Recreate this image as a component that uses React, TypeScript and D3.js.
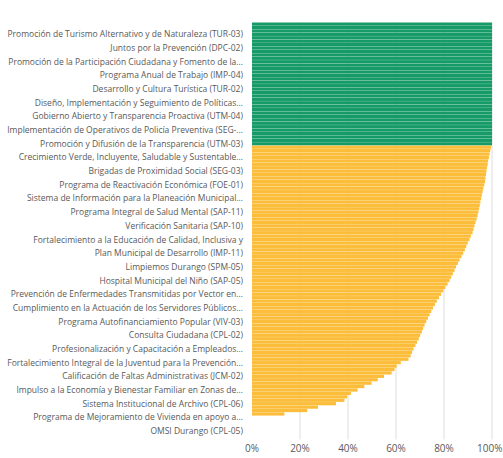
import { useEffect, useRef } from 'react'
import * as d3 from 'd3'

// Labelled programmes (one label shown every 4th bar)
const tickLabels = [
  'Promoción de Turismo Alternativo y de Naturaleza (TUR-03)',
  'Juntos por la Prevención (DPC-02)',
  'Promoción de la Participación Ciudadana y Fomento de la...',
  'Programa Anual de Trabajo (IMP-04)',
  'Desarrollo y Cultura Turística (TUR-02)',
  'Diseño, Implementación y Seguimiento de Políticas...',
  'Gobierno Abierto y Transparencia Proactiva (UTM-04)',
  'Implementación de Operativos de Policía Preventiva (SEG-...',
  'Promoción y Difusión de la Transparencia (UTM-03)',
  'Crecimiento Verde, Incluyente, Saludable y Sustentable...',
  'Brigadas de Proximidad Social (SEG-03)',
  'Programa de Reactivación Económica (FOE-01)',
  'Sistema de Información para la Planeación Municipal...',
  'Programa Integral de Salud Mental (SAP-11)',
  'Verificación Sanitaria (SAP-10)',
  'Fortalecimiento a la Educación de Calidad, Inclusiva y',
  'Plan Municipal de Desarrollo (IMP-11)',
  'Limpiemos Durango (SPM-05)',
  'Hospital Municipal del Niño (SAP-05)',
  'Prevención de Enfermedades Transmitidas por Vector en...',
  'Cumplimiento en la Actuación de los Servidores Públicos...',
  'Programa Autofinanciamiento Popular (VIV-03)',
  'Consulta Ciudadana (CPL-02)',
  'Profesionalización y Capacitación a Empleados...',
  'Fortalecimiento Integral de la Juventud para la Prevención...',
  'Calificación de Faltas Administrativas (JCM-02)',
  'Impulso a la Economía y Bienestar Familiar en Zonas de...',
  'Sistema Institucional de Archivo (CPL-06)',
  'Programa de Mejoramiento de Vivienda en apoyo a...',
  'OMSI Durango (CPL-05)',
]
const labelEvery = 4
const labelOffset = 3

// Completed programmes (green), in %
const completeValues = [
  100, 100, 100, 100, 100, 100, 100, 100, 100, 100, 100, 100,
  100, 100, 100, 100, 100, 100, 100, 100, 100, 100, 100, 100,
  100, 100, 100, 100, 100, 100, 100, 100, 100, 100, 100, 100,
]

// Programmes in progress (orange), in %
const progressValues = [
  99.6, 99.3, 99.0, 98.7, 98.4, 98.2, 97.9, 97.7, 97.5, 97.3,
  97.1, 96.8, 96.4, 96.1, 95.8, 95.5, 95.2, 94.9, 94.6, 94.3,
  94.0, 93.6, 93.1, 92.7, 92.3, 91.9, 91.2, 90.6, 89.9, 89.3,
  88.7, 88.0, 87.3, 86.5, 85.8, 85.0, 84.4, 83.7, 83.0, 82.3,
  81.5, 80.6, 79.7, 78.8, 77.9, 77.0, 76.2, 75.4, 74.7, 74.0,
  73.3, 72.6, 71.9, 71.3, 70.8, 70.1, 69.5, 68.8, 68.1, 67.3,
  66.7, 66.1, 65.2, 62.0, 60.3, 59.4, 58.2, 55.0, 52.4, 49.8,
  46.8, 44.0, 41.2, 39.6, 38.5, 35.0, 27.5, 23.0, 13.5,
]

// Programmes without progress
const notStartedValues = [0, 0, 0, 0, 0, 0, 0]

const xTicks = [0, 20, 40, 60, 80, 100]

const GREEN = '#169b68'
const ORANGE = '#fbbd3a'

export default function App() {
  const svgRef = useRef<SVGSVGElement>(null)

  useEffect(() => {
    if (!svgRef.current) return
    const width = 503
    const height = 458
    const margin = { top: 22.5, right: 11, bottom: 18.5, left: 252 }
    const innerW = width - margin.left - margin.right
    const innerH = height - margin.top - margin.bottom

    const data = [
      ...completeValues.map(v => ({ v, color: GREEN })),
      ...progressValues.map(v => ({ v, color: ORANGE })),
      ...notStartedValues.map(v => ({ v, color: ORANGE })),
    ].map((d, i) => ({ ...d, i }))

    const svg = d3.select(svgRef.current)
    svg.selectAll('*').remove()
    svg.attr('width', width).attr('height', height)

    const g = svg.append('g').attr('transform', `translate(${margin.left},${margin.top})`)

    const x = d3.scaleLinear().domain([0, 100]).range([0, innerW])
    const y = d3.scaleBand<number>().domain(data.map(d => d.i)).range([0, innerH]).paddingInner(0.06)

    // Grid
    g.append('g')
      .selectAll('line')
      .data(xTicks.slice(1))
      .enter().append('line')
      .attr('x1', d => x(d)).attr('x2', d => x(d))
      .attr('y1', 0).attr('y2', innerH)
      .attr('stroke', '#dedede').attr('stroke-width', 1)

    // Bars
    g.append('g')
      .selectAll('rect')
      .data(data)
      .enter().append('rect')
      .attr('x', 0)
      .attr('y', d => y(d.i)!)
      .attr('width', d => x(d.v))
      .attr('height', y.bandwidth())
      .attr('fill', d => d.color)

    // Category labels
    g.append('g')
      .selectAll('text')
      .data(tickLabels)
      .enter().append('text')
      .attr('x', -9)
      .attr('y', (_, k) => y(k * labelEvery + labelOffset)! + y.bandwidth() / 2)
      .attr('dy', '0.35em')
      .attr('text-anchor', 'end')
      .attr('fill', '#595959')
      .attr('font-family', '"Open Sans", sans-serif')
      .attr('font-size', '8.5px')
      .text(d => d)

    // X axis labels (last one kept inside the picture)
    const lastTick = xTicks[xTicks.length - 1]
    g.append('g')
      .selectAll('text')
      .data(xTicks)
      .enter().append('text')
      .attr('x', d => (d === lastTick ? innerW + margin.right - 0.5 : x(d)))
      .attr('y', innerH + 12)
      .attr('text-anchor', d => (d === lastTick ? 'end' : 'middle'))
      .attr('fill', '#595959')
      .attr('font-family', '"Open Sans", sans-serif')
      .attr('font-size', '10px')
      .text(d => `${d}%`)
  }, [])

  return (
    <div style={{ position: 'absolute', left: 0, top: 0, background: '#fff' }}>
      <svg ref={svgRef} style={{ display: 'block' }} />
    </div>
  )
}
